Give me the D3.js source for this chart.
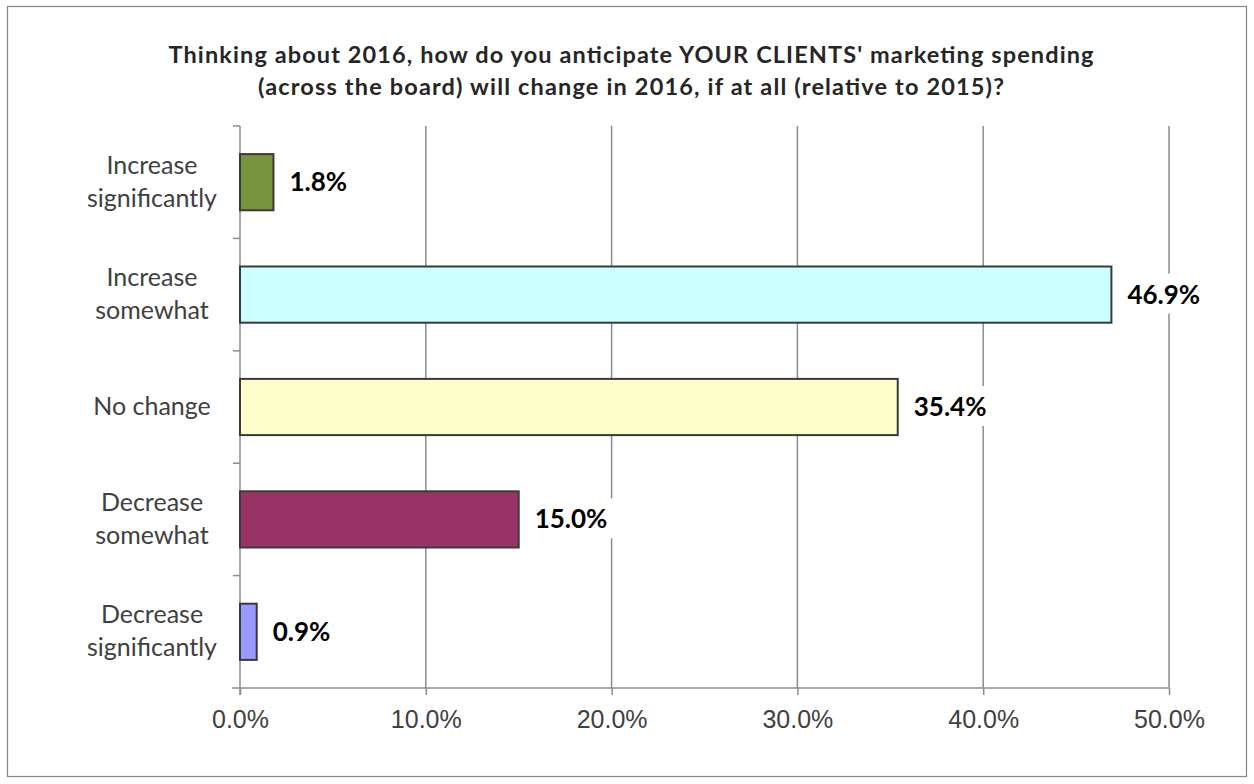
<!DOCTYPE html>
<html>
<head>
<meta charset="utf-8">
<script src="https://cdn.jsdelivr.net/npm/d3@7"></script>
<style>
  html, body { margin: 0; padding: 0; background: #fff; }
  svg { display: block; }
</style>
</head>
<body>
<svg id="chart" width="1254" height="784"></svg>
<script>
// Survey answers, top to bottom
const categories = [
  ["Increase", "significantly"],
  ["Increase", "somewhat"],
  ["No change"],
  ["Decrease", "somewhat"],
  ["Decrease", "significantly"]
];
const values = [1.8, 46.9, 35.4, 15.0, 0.9];
const barColors = ["#77933C", "#CCFFFF", "#FFFFCC", "#993366", "#9999FF"];
const xTicks = [0, 10, 20, 30, 40, 50];
const titleLines = [
  "Thinking about 2016, how do you anticipate YOUR CLIENTS' marketing spending",
  "(across the board) will change in 2016, if at all (relative to 2015)?"
];

const svg = d3.select("#chart");
const plot = { left: 240, right: 1169, top: 126, bottom: 688 };
const SANS = "Lato, 'Open Sans', sans-serif";

// Outer frame
svg.append("rect")
  .attr("x", 7.5).attr("y", 6.5)
  .attr("width", 1239).attr("height", 770)
  .attr("fill", "#fff").attr("stroke", "#868686").attr("stroke-width", 1.2);

// Title, two centred lines
const titleWidths = [925, 746];
svg.append("g")
  .attr("font-family", SANS)
  .attr("font-weight", "bold")
  .attr("font-size", 23.5)
  .attr("fill", "#262626")
  .attr("text-anchor", "middle")
  .selectAll("text").data(titleLines).join("text")
  .attr("x", 631)
  .attr("y", (d, i) => 63 + i * 32)
  .attr("textLength", (d, i) => titleWidths[i])
  .attr("lengthAdjust", "spacing")
  .text(d => d);

const x = d3.scaleLinear().domain([0, 50]).range([plot.left, plot.right]);
const y = d3.scaleBand()
  .domain(d3.range(categories.length))
  .range([plot.top, plot.bottom])
  .paddingInner(0.5).paddingOuter(0.25);
const yTickScale = d3.scaleLinear().domain([0, categories.length]).range([plot.top, plot.bottom]);

// Vertical gridlines
svg.append("g")
  .selectAll("line").data(xTicks.slice(1)).join("line")
  .attr("x1", d => x(d)).attr("x2", d => x(d))
  .attr("y1", plot.top).attr("y2", plot.bottom)
  .attr("stroke", "#8c8c8c").attr("stroke-width", 1.5);

// X axis
const xAxis = d3.axisBottom(x).tickValues(xTicks).tickSize(7).tickSizeOuter(0)
  .tickFormat(d => d.toFixed(1) + "%");
const gx = svg.append("g").attr("transform", `translate(0,${plot.bottom})`).call(xAxis);
gx.select(".domain").remove();
gx.append("line").attr("x1", plot.left - 8).attr("x2", plot.right)
  .attr("stroke", "#8c8c8c").attr("stroke-width", 1.5);
gx.selectAll(".tick line").attr("stroke", "#8c8c8c").attr("stroke-width", 1.5);
gx.selectAll(".tick text")
  .attr("y", 40).attr("dy", 0)
  .attr("font-family", "'Liberation Sans', Arial, sans-serif")
  .attr("font-size", 25)
  .attr("fill", "#404040");

// Y axis line and category separators
svg.append("line")
  .attr("x1", plot.left).attr("x2", plot.left)
  .attr("y1", plot.top).attr("y2", plot.bottom + 7)
  .attr("stroke", "#8c8c8c").attr("stroke-width", 1.5);
svg.append("g")
  .selectAll("line").data(d3.range(categories.length)).join("line")
  .attr("x1", plot.left - 7).attr("x2", plot.left)
  .attr("y1", d => yTickScale(d)).attr("y2", d => yTickScale(d))
  .attr("stroke", "#8c8c8c").attr("stroke-width", 1.5);

// Category labels
const catG = svg.append("g")
  .attr("font-family", SANS)
  .attr("font-size", 25)
  .attr("fill", "#404040")
  .attr("text-anchor", "middle");
categories.forEach((lines, i) => {
  const cy = y(i) + y.bandwidth() / 2;
  const lh = 33;
  const t = catG.append("text");
  lines.forEach((ln, j) => {
    t.append("tspan")
      .attr("x", 152)
      .attr("y", cy + 8 + (j - (lines.length - 1) / 2) * lh)
      .text(ln);
  });
});

// Bars
svg.append("g")
  .selectAll("rect").data(values).join("rect")
  .attr("x", x(0))
  .attr("y", (d, i) => y(i))
  .attr("width", d => x(d) - x(0))
  .attr("height", y.bandwidth())
  .attr("fill", (d, i) => barColors[i])
  .attr("stroke", "#3a3a3a").attr("stroke-width", 2);

// Value labels with white backing
const lab = svg.append("g").selectAll("g").data(values).join("g")
  .attr("transform", (d, i) => `translate(${x(d) + 16},${y(i) + y.bandwidth() / 2})`);
lab.append("text")
  .attr("dy", 9)
  .attr("font-family", SANS)
  .attr("font-weight", "bold")
  .attr("font-size", 26)
  .attr("fill", "#000")
  .text(d => d.toFixed(1) + "%")
  .each(function () {
    const b = this.getBBox();
    d3.select(this.parentNode).insert("rect", "text")
      .attr("x", b.x - 6).attr("y", b.y - 4)
      .attr("width", b.width + 12).attr("height", b.height + 8)
      .attr("fill", "#fff");
  });
</script>
</body>
</html>
